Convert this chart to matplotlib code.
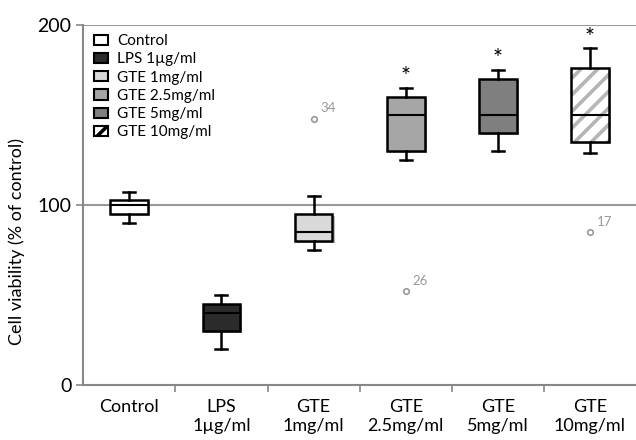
import numpy as np
import matplotlib
matplotlib.use('Agg')
import matplotlib.pyplot as plt
from matplotlib.patches import Patch, PathPatch
import matplotlib.patheffects as pe

plt.rcParams['font.family'] = ['Lato', 'DejaVu Sans']
plt.rcParams['hatch.linewidth'] = 2.6

# data
groups = ['Control', 'LPS 1µg/ml', 'GTE 1mg/ml', 'GTE 2.5mg/ml', 'GTE 5mg/ml', 'GTE 10mg/ml']
tick_labels = ['Control', 'LPS\n1µg/ml', 'GTE\n1mg/ml', 'GTE\n2.5mg/ml', 'GTE\n5mg/ml', 'GTE\n10mg/ml']
whislo = [90, 20, 75, 125, 130, 129]
q1 = [95, 30, 80, 130, 140, 135]
med = [100, 40, 85, 150, 150, 150]
q3 = [103, 45, 95, 160, 170, 176]
whishi = [107, 50, 105, 165, 175, 187]
fliers = [[], [], [148], [52], [], [85]]
flier_ids = [[], [], ['34'], ['26'], [], ['17']]
signif = [False, False, False, True, True, True]

colors = ['white', '#2b2b2b', '#d9d9d9', '#a6a6a6', '#7f7f7f', 'white']
hatches = [None, None, None, None, None, '//']

stats = []
for i in range(len(groups)):
    stats.append(dict(med=med[i], q1=q1[i], q3=q3[i], whislo=whislo[i],
                      whishi=whishi[i], fliers=fliers[i]))

fig = plt.figure(figsize=(6.36, 4.4), dpi=100)
ax = fig.add_axes([0.131, 0.125, 0.869, 0.818])

pos = np.arange(1, len(groups) + 1)
bp = ax.bxp(stats, positions=pos, widths=0.41, patch_artist=True,
            boxprops=dict(linewidth=1.8, edgecolor='black'),
            medianprops=dict(color='black', linewidth=1.5),
            whiskerprops=dict(color='black', linewidth=1.8),
            capprops=dict(color='black', linewidth=1.8),
            flierprops=dict(marker='o', markersize=4, markerfacecolor='none',
                            markeredgecolor='#999999', markeredgewidth=1.2),
            capwidths=0.13, zorder=3)

shadow = [pe.SimplePatchShadow(offset=(1.5, -1.5), alpha=0.35), pe.Normal()]
for box, c, h in zip(bp['boxes'], colors, hatches):
    box.set_facecolor(c)
    if h:
        hp = PathPatch(box.get_path(), facecolor='white', edgecolor='#b5b5b5',
                       hatch=h, linewidth=0, zorder=2.9)
        hp.set_path_effects(shadow)
        ax.add_patch(hp)
        box.set_facecolor('none')
    else:
        box.set_path_effects(shadow)

# outlier labels
for i, (fl, ids) in enumerate(zip(fliers, flier_ids)):
    for v, lab in zip(fl, ids):
        ax.annotate(lab, (pos[i], v), xytext=(5, 3), textcoords='offset points',
                    fontsize=9.5, color='#999999', ha='left', va='bottom')

# significance asterisks
for i, s in enumerate(signif):
    if s:
        ax.text(pos[i], whishi[i] + 0.5, '*', ha='center', va='bottom', fontsize=17)

ax.set_ylim(0, 200)
ax.set_xlim(0.5, len(groups) + 0.5)
ax.set_yticks([0, 100, 200])
ax.tick_params(axis='y', labelsize=14, color='#888888', length=5, width=1.2)
ax.set_xticks(pos)
ax.set_xticklabels(tick_labels, fontsize=13, linespacing=1.25)
ax.tick_params(axis='x', which='major', length=0, pad=10)
ax.set_xticks(np.arange(1.5, len(groups), 1), minor=True)
ax.tick_params(axis='x', which='minor', length=5, color='#888888', width=1.2)
ax.set_ylabel('Cell viability (% of control)', fontsize=13)
ax.yaxis.set_label_coords(-0.105, 0.40)

for y in [100, 200]:
    ax.axhline(y, color='#999999', linewidth=1.5, zorder=1)
for s in ['top', 'right']:
    ax.spines[s].set_visible(False)
for s in ['left', 'bottom']:
    ax.spines[s].set_color('#888888')
    ax.spines[s].set_linewidth(1.5)

handles = []
for c, h, g in zip(colors, hatches, groups):
    handles.append(Patch(facecolor=c, edgecolor='black', linewidth=1.5,
                         hatch=h if h else None, label=g))
leg = ax.legend(handles=handles, loc='upper left', bbox_to_anchor=(0.0, 1.005),
                frameon=False, fontsize=11, handlelength=0.9, handleheight=0.65,
                labelspacing=0.28, handletextpad=0.6, borderaxespad=0.3)

fig.savefig('out.png', dpi=100)
